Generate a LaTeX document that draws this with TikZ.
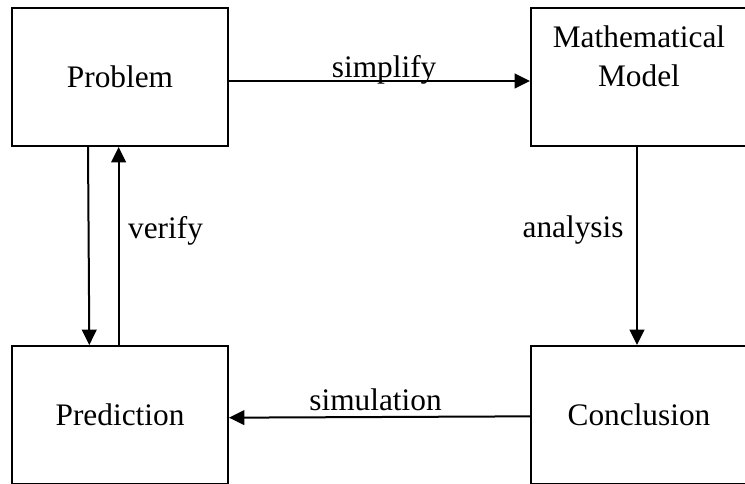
\documentclass[tikz,border=0pt]{standalone}
\usepackage{fontspec}
\setmainfont{Liberation Serif}
\usetikzlibrary{positioning}
\usetikzlibrary{arrows.meta}

\begin{document}
\begin{tikzpicture}[x=0.75pt,y=-0.75pt,
		box/.style={draw, line width=1.5pt, minimum width=162pt, minimum height=103.5pt, font=\fontsize{23.5}{29}\selectfont},
		flow/.style={line width=1.5pt, -{Triangle[length=11.5pt,width=11pt]}},
		lbl/.style={font=\fontsize{23.5}{29}\selectfont}]
		% Fix the page size and cut the boxes at its edge
		\useasboundingbox (0,0) rectangle (745,483);
		\clip (0,0) rectangle (745,483);

		% Draw the boxes
		\node[box] (prob) at (120,77) {Problem};
		\node[box] (model) at (639,77) {};
		\node[box] (pred) at (120,415) {Prediction};
		\node[box] (conc) at (639,415) {Conclusion};
		\node[lbl, align=center, below=10.5pt of model.north] (modeltext) {Mathematical\\Model};

		% Draw the arrows
		\draw[flow] ([yshift=-3pt]prob.east) -- node[lbl, midway, anchor=base, yshift=3pt, xshift=3.5pt] (simplify) {simplify} ([yshift=-3pt]model.west);
		\draw[flow] ([xshift=-1.5pt]model.south) -- node[lbl, pos=0.42, left, xshift=-6pt] (analysis) {analysis} ([xshift=-1.5pt]conc.north);
		\draw[flow] ([yshift=-1pt]conc.west) -- node[lbl, midway, anchor=base, yshift=5pt, xshift=-3pt] (simulation) {simulation} ([yshift=-2pt]pred.east);
		\draw[flow] ([xshift=-24pt]prob.south) -- ([xshift=-23pt]pred.north);
		\draw[flow] ([xshift=-1pt]pred.north) -- node[lbl, pos=0.575, right, xshift=3pt] (verify) {verify} ([xshift=-1pt]prob.south);
\end{tikzpicture}
\end{document}
